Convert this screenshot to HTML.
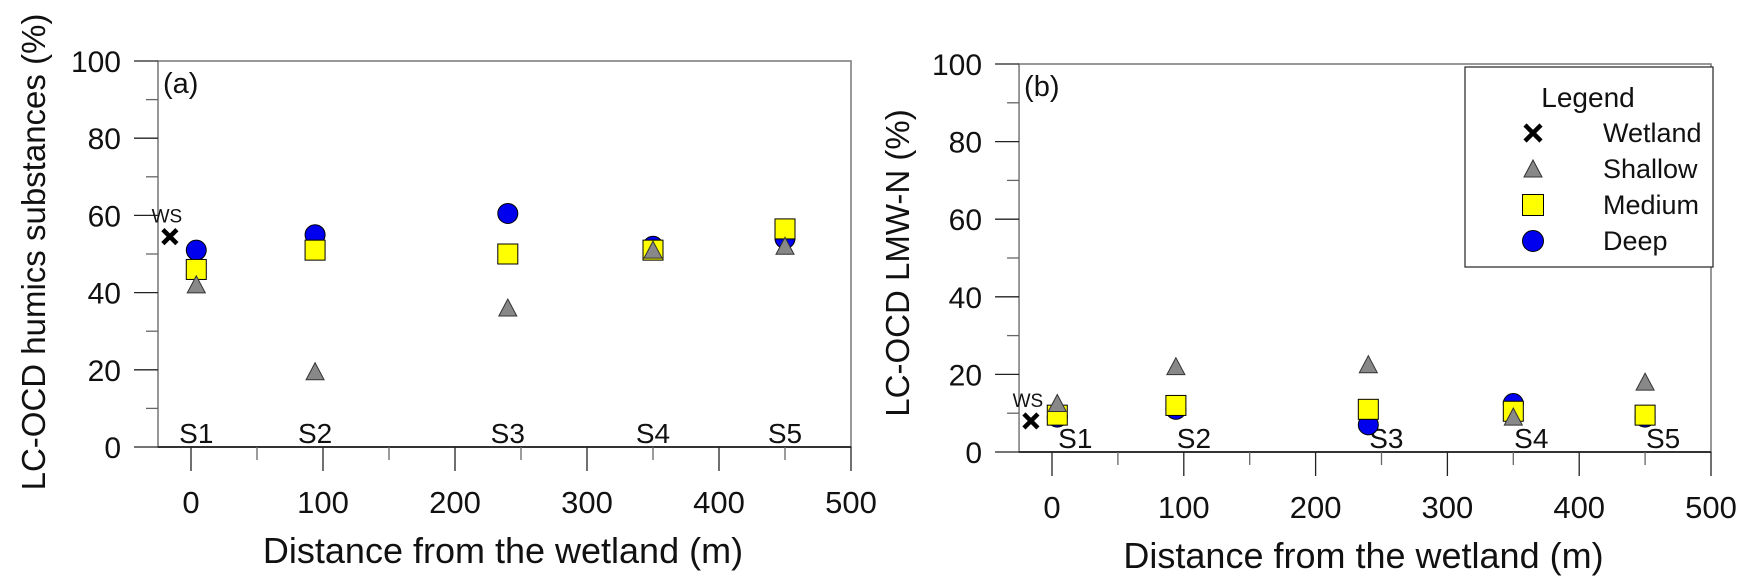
<!DOCTYPE html>
<html><head><meta charset="utf-8"><style>
html,body{margin:0;padding:0;background:#fff;}
svg{display:block;font-family:"Liberation Sans",Arial,sans-serif;}
</style></head><body>
<svg id="chart" width="1754" height="588" viewBox="0 0 1754 588" xmlns="http://www.w3.org/2000/svg"></svg>
<script>
const sites = ["S1","S2","S3","S4","S5"];
const siteX = [4, 94, 240, 350, 450];
const wetlandX = -16;
const xTicks = [0,100,200,300,400,500];
const yTicks = [0,20,40,60,80,100];
// panel a
const aDeep = [51, 55, 60.5, 52, 54];
const aMedium = [46, 51, 50, 51, 56.5];
const aShallow = [42, 19.5, 36, 51, 52];
const aWetland = 54.5;
// panel b
const bDeep = [9, 11, 7, 12.5, 9];
const bMedium = [9.5, 12, 11, 10.5, 9.5];
const bShallow = [12.5, 22, 22.5, 9, 18];
const bWetland = 8;

const NS = "http://www.w3.org/2000/svg";
const svg = document.getElementById('chart');
function mk(tag, attrs, parent, text){
  const e = document.createElementNS(NS, tag);
  for (const k in attrs) e.setAttribute(k, attrs[k]);
  if (text !== undefined) e.textContent = text;
  (parent||svg).appendChild(e);
  return e;
}
function cross(g, cx, cy, s){
  mk('path', {d:`M${cx-s},${cy-s}L${cx+s},${cy+s}M${cx-s},${cy+s}L${cx+s},${cy-s}`, stroke:'#000', 'stroke-width':4.5, fill:'none'}, g);
}
function drawPanel(cfg){
  const g = mk('g', {});
  
  
  const sx = v => cfg.x0 + (v/500)*(cfg.x500 - cfg.x0);
  const sy = v => cfg.bottom - (v/100)*(cfg.bottom - cfg.top);
  const L = sx(-25), R = sx(500);
  const frame = mk('rect', {x:L, y:cfg.top, width:R-L, height:cfg.bottom-cfg.top, fill:'none', stroke:'#777', 'stroke-width':1.5}, g);
  
  
  mk('line', {x1:L, x2:R, y1:cfg.bottom, y2:cfg.bottom, stroke:'#333', 'stroke-width':2}, g);
  for (let v=0; v<=100; v+=10){
    const major = v%20===0;
    mk('line', {x1:L-(major?24:12), x2:L, y1:sy(v), y2:sy(v), stroke: major?'#222':'#666', 'stroke-width':1.3}, g);
  }
  yTicks.forEach(v=>{
    const t = mk('text', {x:L-37, y:sy(v)+11, 'text-anchor':'end', 'font-size':30, fill:'#111'}, g, String(v));
    
    
  });
  for (let v=0; v<=500; v+=50){
    const major = v%100===0;
    mk('line', {x1:sx(v), x2:sx(v), y1:cfg.bottom, y2:cfg.bottom+(major?24:13), stroke: major?'#222':'#666', 'stroke-width':1.3}, g);
  }
  xTicks.forEach(v=>{
    const t = mk('text', {x:sx(v), y:cfg.bottom+66, 'text-anchor':'middle', 'font-size':31, fill:'#111'}, g, String(v));
    
    
  });
  const xt = mk('text', {x:(sx(0)+sx(500))/2 - 18, y:cfg.bottom+116, 'text-anchor':'middle', 'font-size':36, fill:'#111'}, g, 'Distance from the wetland (m)');
  
  
  const yt = mk('text', {x:0, y:0, 'text-anchor':'middle', 'font-size':33, fill:'#111', transform:`translate(${cfg.ytX},${cfg.ytY}) rotate(-90)`}, g, cfg.ylabel);
  
  
  const pl = mk('text', {x:L+5, y:cfg.top+32, 'font-size':29, fill:'#111'}, g, cfg.panel);
  
  
  sites.forEach((s,i)=>{
    const t = mk('text', {x:sx(siteX[i])+cfg.sOff, y:cfg.bottom-4, 'text-anchor':'middle', 'font-size':28, fill:'#111'}, g, s);
    
    
  });
  const tri = (cx,cy)=>`${cx-9},${cy+8} ${cx+9},${cy+8} ${cx},${cy-9}`;
  siteX.forEach((x,i)=>{
    const c = mk('circle', {cx:sx(x), cy:sy(cfg.deep[i]), r:10, fill:'#0000ee', stroke:'#000', 'stroke-width':1}, g);
    
    
  });
  siteX.forEach((x,i)=>{
    const r = mk('rect', {x:sx(x)-10, y:sy(cfg.medium[i])-10, width:20, height:20, fill:'#ffff00', stroke:'#000', 'stroke-width':1}, g);
    
    
  });
  siteX.forEach((x,i)=>{
    const p = mk('polygon', {points:tri(sx(x), sy(cfg.shallow[i])), fill:'#888', stroke:'#333', 'stroke-width':1}, g);
    
    
  });
  const wx = sx(wetlandX), wy = sy(cfg.wetland);
  const wg = mk('g', {}, g);
  
  
  cross(wg, wx, wy, 7);
  const ws = mk('text', {x:wx-3, y:wy-14, 'text-anchor':'middle', 'font-size':19, fill:'#111'}, g, 'WS');
  
  
  return g;
}
drawPanel({name:'panel-a', x0:191, x500:851, top:61, bottom:447, ylabel:'LC-OCD humics substances (%)', ytX:45, ytY:252, panel:'(a)', sOff:0,
  deep:aDeep, medium:aMedium, shallow:aShallow, wetland:aWetland});
drawPanel({name:'panel-b', x0:1052, x500:1711, top:64, bottom:452, ylabel:'LC-OCD LMW-N (%)', ytX:909, ytY:263, panel:'(b)', sOff:18,
  deep:bDeep, medium:bMedium, shallow:bShallow, wetland:bWetland});

const lg = mk('g', {});


mk('rect', {x:1465, y:67, width:248, height:200, fill:'#fff', stroke:'#333', 'stroke-width':1.3}, lg);
mk('text', {x:1588, y:107, 'text-anchor':'middle', 'font-size':28, fill:'#111'}, lg, 'Legend');
const legNames = ['Wetland','Shallow','Medium','Deep'];
const legY = [133,169,205,241];
legNames.forEach((n,i)=>{
  const y = legY[i], x = 1533;
  const e = mk('g', {}, lg);
  
  
  if (i===0) cross(e, x, y, 8);
  if (i===1) mk('polygon', {points:`${x-9},${y+8} ${x+9},${y+8} ${x},${y-9}`, fill:'#888', stroke:'#333'}, e);
  if (i===2) mk('rect', {x:x-10.5, y:y-10.5, width:21, height:21, fill:'#ffff00', stroke:'#000'}, e);
  if (i===3) mk('circle', {cx:x, cy:y, r:10.5, fill:'#0000ee', stroke:'#000'}, e);
  mk('text', {x:1603, y:y+9, 'font-size':27, fill:'#111'}, e, n);
});
</script>
</body></html>
